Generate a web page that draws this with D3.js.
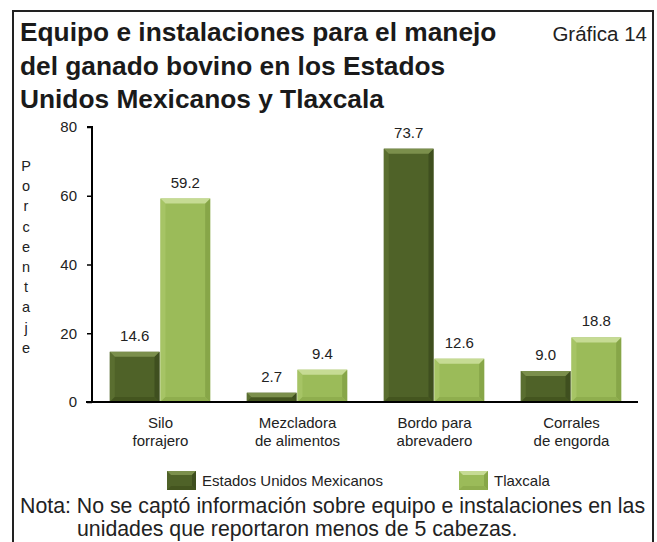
<!DOCTYPE html>
<html>
<head>
<meta charset="utf-8">
<script src="https://cdn.jsdelivr.net/npm/d3@7"></script>
<style>
  html, body { margin: 0; padding: 0; background: #fff; }
  svg { display: block; font-family: "Liberation Sans", Arial, sans-serif; }
</style>
</head>
<body>
<svg id="chart" width="657" height="542"></svg>
<script>
// Categories (two-line labels) and values per series
const categories = ["Silo forrajero", "Mezcladora de alimentos", "Bordo para abrevadero", "Corrales de engorda"];
const categoryLines = [["Silo", "forrajero"], ["Mezcladora", "de alimentos"], ["Bordo para", "abrevadero"], ["Corrales", "de engorda"]];
const seriesNames = ["Estados Unidos Mexicanos", "Tlaxcala"];
const eumValues = [14.6, 2.7, 73.7, 9.0];
const tlaxValues = [59.2, 9.4, 12.6, 18.8];
const yTicks = [0, 20, 40, 60, 80];
const titleLines = ["Equipo e instalaciones para el manejo", "del ganado bovino en los Estados", "Unidos Mexicanos y Tlaxcala"];
const axisLetters = "Porcentaje".split("");
const noteLines = ["Nota: No se captó información sobre equipo e instalaciones en las", "unidades que reportaron menos de 5 cabezas."];

const palettes = [
  { base: "#4F6228", top: "#7B8F4C", left: "#5A6E30", right: "#3F4F1F", bottom: "#44551F" },
  { base: "#9BBB59", top: "#C6DB94", left: "#A6C465", right: "#87A648", bottom: "#8FAE4E" }
];

const svg = d3.select("#chart");

// Frame
svg.append("path")
  .attr("d", "M13,542 V11 H653 V542")
  .attr("fill", "none").attr("stroke", "#222").attr("stroke-width", 2);

// Title
svg.append("text")
  .attr("x", 20).attr("y", 41)
  .attr("font-weight", "bold").attr("font-size", 26.3).attr("fill", "#1a1a1a")
  .selectAll("tspan").data(titleLines).join("tspan")
  .attr("x", 20).attr("dy", (d, i) => i === 0 ? 0 : 33.5)
  .text(d => d);

svg.append("text")
  .attr("x", 647).attr("y", 41).attr("text-anchor", "end")
  .attr("font-size", 20.5).attr("fill", "#222")
  .text("Gráfica 14");

// Scales
const x0 = d3.scaleBand().domain(categories).range([92, 640]).paddingInner(0.26).paddingOuter(0.13);
const x1 = d3.scaleBand().domain(seriesNames).range([0, x0.bandwidth()]);
const y = d3.scaleLinear().domain([0, 80]).range([402, 127]);

// Y axis
const yAxis = svg.append("g").attr("transform", "translate(92,0)")
  .call(d3.axisLeft(y).tickValues(yTicks).tickSize(5).tickPadding(10));
yAxis.select(".domain").attr("stroke", "#000").attr("stroke-width", 2).attr("d", "M-5,127H0V402");
yAxis.selectAll(".tick line").attr("stroke", "#000").attr("stroke-width", 1.5);
yAxis.selectAll(".tick text").attr("font-size", 15).attr("fill", "#222")
  .attr("font-family", "Liberation Sans, Arial, sans-serif");

// Vertical axis title, one letter per line
svg.append("g").selectAll("text").data(axisLetters).join("text")
  .attr("x", 26).attr("y", (d, i) => 171 + i * 20.2)
  .attr("text-anchor", "middle").attr("font-size", 14.5).attr("fill", "#222")
  .text(d => d);

// Bars with bevelled edges
const bevel = 5;
function drawBar(g, xPos, w, val, pal) {
  const yt = y(val), yb = y(0), h = yb - yt;
  const b = Math.min(bevel, h / 2);
  g.append("rect").attr("x", xPos).attr("y", yt).attr("width", w).attr("height", h).attr("fill", pal.base);
  const L = xPos, R = xPos + w, T = yt, B = yb;
  g.append("polygon").attr("fill", pal.left)
    .attr("points", [[L, T], [L + b, T + b], [L + b, B - b], [L, B]].join(" "));
  g.append("polygon").attr("fill", pal.right)
    .attr("points", [[R, T], [R - b, T + b], [R - b, B - b], [R, B]].join(" "));
  g.append("polygon").attr("fill", pal.bottom)
    .attr("points", [[L, B], [L + b, B - b], [R - b, B - b], [R, B]].join(" "));
  g.append("polygon").attr("fill", pal.top)
    .attr("points", [[L, T], [R, T], [R - b, T + b], [L + b, T + b]].join(" "));
}

const series = [eumValues, tlaxValues];
const barsG = svg.append("g");
categories.forEach((c, ci) => {
  series.forEach((vals, si) => {
    const xp = x0(c) + x1(seriesNames[si]);
    const w = x1.bandwidth() - 1;
    drawBar(barsG, xp, w, vals[ci], palettes[si]);
    svg.append("text")
      .attr("x", xp + w / 2).attr("y", y(vals[ci]) - 11)
      .attr("text-anchor", "middle").attr("font-size", 15).attr("fill", "#222")
      .text(vals[ci].toFixed(1));
  });
});

// X axis baseline
svg.append("line").attr("x1", 86).attr("x2", 638).attr("y1", 402).attr("y2", 402)
  .attr("stroke", "#000").attr("stroke-width", 2);

// Category labels
categories.forEach((c, ci) => {
  svg.append("text")
    .attr("x", x0(c) + x0.bandwidth() / 2).attr("y", 428)
    .attr("text-anchor", "middle").attr("font-size", 15).attr("fill", "#222")
    .selectAll("tspan").data(categoryLines[ci]).join("tspan")
    .attr("x", x0(c) + x0.bandwidth() / 2).attr("dy", (d, i) => i === 0 ? 0 : 17.5)
    .text(d => d);
});

// Legend
const legendItems = [{ x: 167, tx: 202 }, { x: 459, tx: 494 }];
legendItems.forEach((it, i) => {
  const lg = svg.append("g");
  const sw = 29, sh = 19, sy = 471;
  const pal = palettes[i];
  lg.append("rect").attr("x", it.x).attr("y", sy).attr("width", sw).attr("height", sh).attr("fill", pal.base);
  lg.append("polygon").attr("fill", pal.top)
    .attr("points", [[it.x, sy], [it.x + sw, sy], [it.x + sw - 4, sy + 4], [it.x + 4, sy + 4]].join(" "));
  lg.append("polygon").attr("fill", pal.right)
    .attr("points", [[it.x + sw, sy], [it.x + sw - 4, sy + 4], [it.x + sw - 4, sy + sh - 4], [it.x + sw, sy + sh]].join(" "));
  lg.append("polygon").attr("fill", pal.bottom)
    .attr("points", [[it.x, sy + sh], [it.x + 4, sy + sh - 4], [it.x + sw - 4, sy + sh - 4], [it.x + sw, sy + sh]].join(" "));
  lg.append("text").attr("x", it.tx).attr("y", 486).attr("font-size", 15).attr("fill", "#222")
    .text(seriesNames[i]);
});

// Note
svg.append("text").attr("x", 20).attr("y", 513).attr("font-size", 21.3).attr("fill", "#222").text(noteLines[0]);
svg.append("text").attr("x", 77).attr("y", 536).attr("font-size", 21.3).attr("fill", "#222").text(noteLines[1]);
</script>
</body>
</html>
